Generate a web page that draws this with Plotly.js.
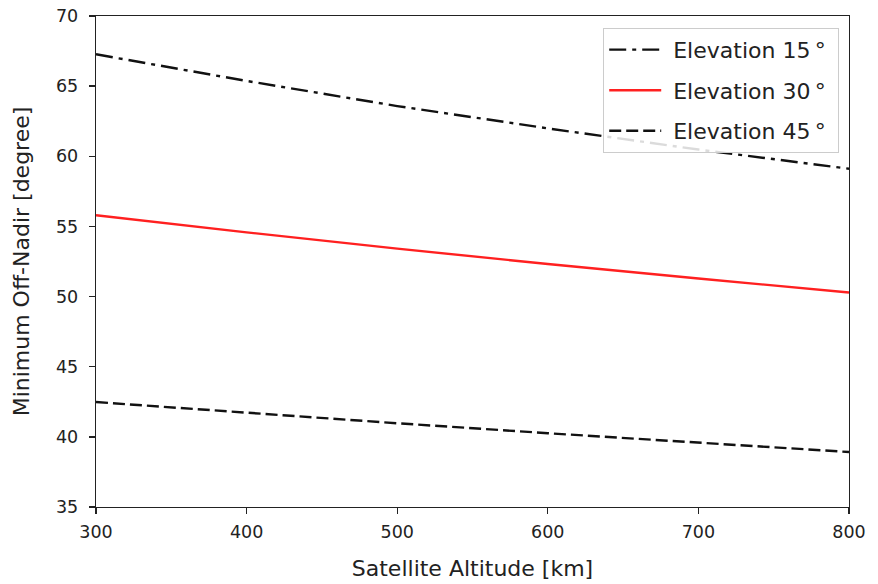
<!DOCTYPE html>
<html>
<head>
<meta charset="utf-8">
<script src="https://cdn.plot.ly/plotly-3.0.1.min.js"></script>
<style>html,body{margin:0;padding:0;background:#fff;}#chart{width:878px;height:584px;}</style>
</head>
<body>
<div id="chart"></div>
<script>
const altitude = [300, 400, 500, 600, 700, 800];
const elev15 = [67.27, 65.37, 63.58, 61.99, 60.48, 59.11];
const elev30 = [55.80, 54.58, 53.42, 52.32, 51.29, 50.29];
const elev45 = [42.48, 41.71, 40.97, 40.26, 39.58, 38.92];
const seriesNames = ['Elevation 15\u2009°', 'Elevation 30\u2009°', 'Elevation 45\u2009°'];
const xTicks = [300, 400, 500, 600, 700, 800];
const yTicks = [35, 40, 45, 50, 55, 60, 65, 70];

const font = 'DejaVu Sans, sans-serif';
const pad = s => '\u00a0' + s + '\u00a0';
const traces = [
  {x: altitude, y: elev15, name: pad(seriesNames[0]), mode: 'lines', legendgroup: 'a',
   line: {color: '#111', width: 2.4, dash: '17px,6px,4px,6px'}},
  {x: altitude, y: elev30, name: pad(seriesNames[1]), mode: 'lines', legendgroup: 'b',
   line: {color: '#ff2020', width: 2.4}},
  {x: altitude, y: elev45, name: pad(seriesNames[2]), mode: 'lines', legendgroup: 'c',
   line: {color: '#111', width: 2.4, dash: '12px,5px'}}
];
const axisCommon = {
  showgrid: false, zeroline: false, showline: true, mirror: true,
  linecolor: '#222', linewidth: 1.3, ticks: 'outside', ticklen: 6,
  tickcolor: '#222', tickwidth: 1.3,
  tickfont: {family: font, size: 17.5, color: '#222'}
};
const layout = {
  width: 878, height: 584,
  margin: {l: 96, r: 29, t: 16, b: 77},
  paper_bgcolor: '#fff', plot_bgcolor: '#fff',
  font: {family: font, color: '#222'},
  xaxis: Object.assign({}, axisCommon, {
    range: [300, 800], tickvals: xTicks, ticklabelstandoff: 3,
    title: {text: 'Satellite Altitude [km]', font: {family: font, size: 22, color: '#222'}, standoff: 19}
  }),
  yaxis: Object.assign({}, axisCommon, {
    range: [35, 70], tickvals: yTicks, ticklabelstandoff: 7,
    title: {text: 'Minimum Off-Nadir [degree]', font: {family: font, size: 22, color: '#222'}, standoff: 20}
  }),
  showlegend: true,
  legend: {
    x: 0.987, y: 0.976, xanchor: 'right', yanchor: 'top',
    bgcolor: 'rgba(255,255,255,0.85)', bordercolor: '#ccc', borderwidth: 1,
    font: {family: font, size: 22, color: '#222'},
    tracegroupgap: 9, itemwidth: 52
  }
};
Plotly.newPlot('chart', traces, layout, {displayModeBar: false, staticPlot: true});
</script>
</body>
</html>
